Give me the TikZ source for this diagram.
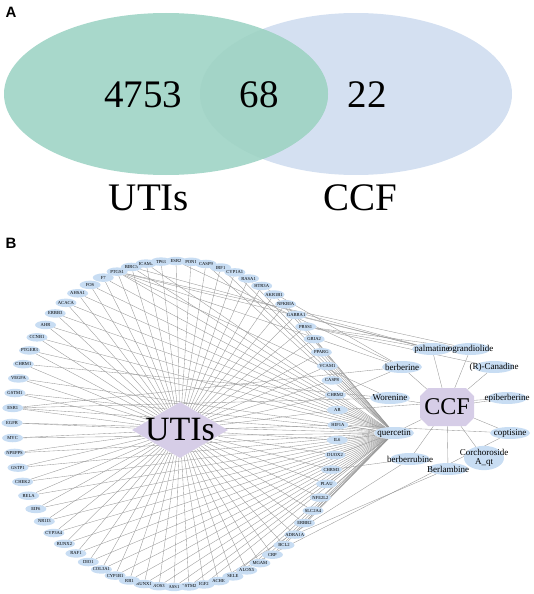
\documentclass[tikz,border=0pt]{standalone}
\usepackage{fontspec}
\setmainfont{Liberation Serif}
\newfontfamily\panelfont{Liberation Sans}
\usepackage{tikz}
\usetikzlibrary{shapes.geometric,shapes.misc,positioning}
\definecolor{vgreen}{RGB}{168,216,203}
\definecolor{vblue}{RGB}{212,224,241}
\definecolor{vboth}{RGB}{163,212,199}
\definecolor{genefill}{RGB}{200,221,243}
\definecolor{hubfill}{RGB}{214,205,231}
\definecolor{edgegray}{RGB}{150,150,150}
\pgfdeclarelayer{bg}
\pgfsetlayers{bg,main}
\tikzset{
  gene/.style={ellipse, fill=genefill, minimum width=21pt, minimum height=8.5pt, inner sep=0pt, font=\fontsize{4.6}{5}\selectfont},
  cpd/.style={ellipse, fill=genefill, minimum width=40pt, minimum height=12pt, inner sep=0pt, font=\fontsize{9}{9}\selectfont},
  link/.style={draw=edgegray, line width=0.35pt},
  panel/.style={font=\panelfont\bfseries\fontsize{15}{15}\selectfont},
  big/.style={font=\fontsize{39}{39}\selectfont}
}

\begin{document}
\begin{tikzpicture}[x=1pt,y=-1pt]
\useasboundingbox (0,0) rectangle (533,594);
% A: venn
\node[panel] (pa) at (11,12) {A};
\fill[vblue] (356,94) ellipse (156 and 81);
\fill[vgreen] (166,94) ellipse (162 and 81);
\begin{scope}
\clip (166,94) ellipse (162 and 81);
\fill[vboth] (356,94) ellipse (156 and 81);
\end{scope}
\node[big] (only1) at (143,95) {4753};
\node[big] (both) at (259,95) {68};
\node[big] (only2) at (367,95) {22};
\node[big] (setu) at (149,198) {UTIs};
\node[big] (setc) at (360,198) {CCF};

% B: network
\node[panel] (pb) at (11,243) {B};
\node[diamond, fill=hubfill, minimum width=96pt, minimum height=56pt, inner sep=0pt, font=\fontsize{34}{34}\selectfont] (uti) at (180,430) {\makebox[0pt]{UTIs}};
\node[chamfered rectangle, chamfered rectangle xsep=9pt, fill=hubfill, minimum width=54pt, minimum height=38pt, inner sep=0pt, font=\fontsize{24}{24}\selectfont] (ccf) at (447,407) {\makebox[0pt]{CCF}};

\foreach \g [count=\k from 0] in {FOS,F7,PTGS1,BIRC5,ICAM1,TP63,ESR2,PON1,CASP9,IRF1,CYP1A1,RASA1,HTR3A,AKR1B1,NFKBIA,GABRA1,PRSS1,GRIA2,PPARG,VCAM1,CASP8,CHRM2,AR,HIF1A,IL6,DUOX2,CHRM3,PLAU,NFE2L2,SLC2A4,ERBB2,ADRA1A,BCL2,CRP,MGAM,ALOX5,SELE,ACHE,IGF2,GSTM2,ASS1,NOS3,RUNX1,RB1,CYP1B1,COL3A1,DIO1,RAF1,RUNX2,CYP3A4,NR1I3,EIF6,RELA,CHEK2,GSTP1,NPEPPS,MYC,EGFR,ESR1,GSTM1,VEGFA,CHRM1,PTGER3,CCNB1,AHR,ERBB3,ACACA,AHSA1} {
  \pgfmathsetmacro\a{121.4-5.2941*\k}
  \node[gene] (\g) at ({175+163*cos(\a)},{424-163*sin(\a)}) {\makebox[0pt]{\g}};
}

\node[cpd] (palm) at (432,349) {\makebox[0pt]{palmatine}};
\node[cpd] (ogra) at (470.5,349) {\makebox[0pt]{ograndiolide}};
\node[cpd] (berb) at (402,367) {\makebox[0pt]{berberine}};
\node[cpd] (cana) at (494,367) {\makebox[0pt]{(R)-Canadine}};
\node[cpd] (wore) at (390,398) {\makebox[0pt]{Worenine}};
\node[cpd] (epib) at (507,398) {\makebox[0pt]{epiberberine}};
\node[cpd] (quer) at (394,433) {\makebox[0pt]{quercetin}};
\node[cpd] (copt) at (510,433) {\makebox[0pt]{coptisine}};
\node[cpd] (brub) at (410,459) {\makebox[0pt]{berberrubine}};
\node[cpd] (berl) at (448,469) {\makebox[0pt]{Berlambine}};
\node[cpd] (corc) at (484,458) {\makebox[0pt]{\shortstack{Corchoroside\\A\_qt}}};

\begin{pgfonlayer}{bg}
\foreach \g in {FOS,F7,PTGS1,BIRC5,ICAM1,TP63,ESR2,PON1,CASP9,IRF1,CYP1A1,RASA1,HTR3A,AKR1B1,NFKBIA,GABRA1,PRSS1,GRIA2,PPARG,VCAM1,CASP8,CHRM2,AR,HIF1A,IL6,DUOX2,CHRM3,PLAU,NFE2L2,SLC2A4,ERBB2,ADRA1A,BCL2,CRP,MGAM,ALOX5,SELE,ACHE,IGF2,GSTM2,ASS1,NOS3,RUNX1,RB1,CYP1B1,COL3A1,DIO1,RAF1,RUNX2,CYP3A4,NR1I3,EIF6,RELA,CHEK2,GSTP1,NPEPPS,MYC,EGFR,ESR1,GSTM1,VEGFA,CHRM1,PTGER3,CCNB1,AHR,ERBB3,ACACA,AHSA1}
  \draw[link] (\g) -- (uti);
% quercetin targets
\foreach \g in {FOS,F7,PTGS1,BIRC5,ICAM1,CASP9,IRF1,CYP1A1,RASA1,AKR1B1,NFKBIA,GRIA2,PPARG,VCAM1,CASP8,AR,HIF1A,IL6,DUOX2,PLAU,NFE2L2,SLC2A4,ERBB2,BCL2,CRP,MGAM,ALOX5,SELE,IGF2,GSTM2,ASS1,NOS3,RUNX1,RB1,CYP1B1,COL3A1,DIO1,RAF1,RUNX2,CYP3A4,NR1I3,EIF6,RELA,CHEK2,GSTP1,NPEPPS,MYC,EGFR,ESR1,GSTM1,VEGFA,PTGER3,CCNB1,AHR,ERBB3,ACACA,AHSA1}
  \draw[link] (\g) -- (quer);
% other compounds
\foreach \g/\c in {PTGS1/palm,PTGS1/berb,PTGS1/ogra,PTGS1/wore,BIRC5/palm,ESR2/berb,ESR1/berb,ESR1/wore,CHRM1/wore,GABRA1/palm,PRSS1/palm,PRSS1/ogra,PRSS1/cana,HTR3A/berb,CHRM2/berb,AR/epib,HIF1A/copt,CHRM3/brub,ADRA1A/berl,ACHE/brub,ACHE/copt}
  \draw[link] (\g) -- (\c);
\foreach \c in {palm,ogra,berb,cana,wore,epib,quer,copt,brub,berl,corc}
  \draw[link] (ccf) -- (\c);
\end{pgfonlayer}
\end{tikzpicture}
\end{document}
